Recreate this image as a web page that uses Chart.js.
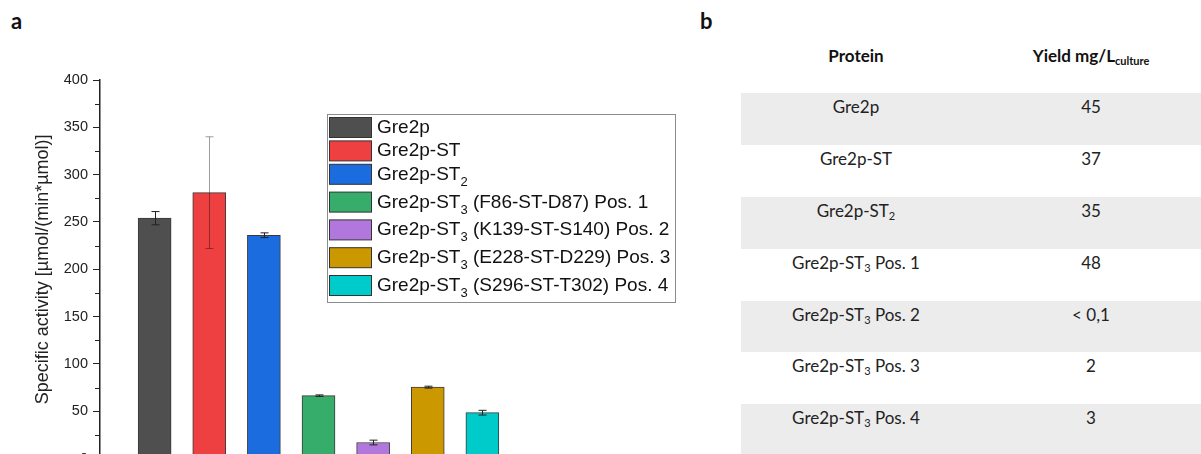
<!DOCTYPE html>
<html>
<head>
<meta charset="utf-8">
<script src="https://cdn.jsdelivr.net/npm/chart.js@4.4.1/dist/chart.umd.min.js"></script>
<style>
    html, body { margin: 0; padding: 0; width: 1201px; height: 454px; overflow: hidden; background: #fff; }
    #activityChart { position: absolute; left: 0; top: 0; }
    .panel-label { position: absolute; font-family: Lato, 'Open Sans', sans-serif; font-weight: bold; font-size: 22px; line-height: 26px; color: #111; }
    .yield-head, .yield-row { position: absolute; left: 741px; width: 470px; display: flex; font-family: Lato, 'Open Sans', sans-serif; font-size: 17px; line-height: 20px; color: #222; }
    .yield-head { top: 46px; font-weight: bold; color: #111; }
    .yield-row { height: 51.8px; box-sizing: border-box; padding-top: 4px; }
    .yield-row.shade { background: #ececec; }
    .col1 { width: 230px; text-align: center; }
    .col2 { width: 240px; text-align: center; }
    sub { font-size: 11px; vertical-align: -3px; line-height: 0; }
</style>
</head>
<body>
<div class="panel-label" style="left:11px; top:8px;">a</div>
<div class="panel-label" style="left:700px; top:8px;">b</div>
<canvas id="activityChart" width="700" height="500"></canvas>
<div id="yieldTable"></div>

<script>
// bar chart data (panel a)
const categories = [
    'Gre2p',
    'Gre2p-ST',
    'Gre2p-ST_2',
    'Gre2p-ST_3 (F86-ST-D87) Pos. 1',
    'Gre2p-ST_3 (K139-ST-S140) Pos. 2',
    'Gre2p-ST_3 (E228-ST-D229) Pos. 3',
    'Gre2p-ST_3 (S296-ST-T302) Pos. 4',
];
const activity = [254, 281, 236, 66.5, 17, 75.5, 48.5];
const activityErr = [7, 59, 2.5, 0.8, 2.5, 1, 2.5];
const barColors = ['#4f4f4f', '#ef4041', '#1b6cdf', '#37ad6b', '#b277dd', '#cb9800', '#00cbcb'];
const yTicks = [0, 50, 100, 150, 200, 250, 300, 350, 400];

// table data (panel b)
const tableProteins = ['Gre2p', 'Gre2p-ST', 'Gre2p-ST_2', 'Gre2p-ST_3 Pos. 1', 'Gre2p-ST_3 Pos. 2', 'Gre2p-ST_3 Pos. 3', 'Gre2p-ST_3 Pos. 4'];
const tableYields = ['45', '37', '35', '48', '< 0,1', '2', '3'];

const subHtml = (s) => s.replace(/_(\w+)/g, '<sub>$1</sub>');

// build table
const tbl = document.getElementById('yieldTable');
let html = '<div class="yield-head"><div class="col1">Protein</div><div class="col2">Yield mg/L<sub>culture</sub></div></div>';
tableProteins.forEach((p, i) => {
    const top = 93.3 + i * 51.8;
    html += `<div class="yield-row${i % 2 === 0 ? ' shade' : ''}" style="top:${top}px"><div class="col1">${subHtml(p)}</div><div class="col2">${tableYields[i]}</div></div>`;
});
tbl.innerHTML = html;

// text with _n subscripts on canvas
function drawSubText(ctx, text, x, y, size) {
    const parts = text.split(/_(\d+)/);
    ctx.textAlign = 'left';
    ctx.textBaseline = 'alphabetic';
    parts.forEach((part, k) => {
        if (k % 2 === 1) {
            ctx.font = `${Math.round(size * 0.66)}px "Liberation Sans", Arial, sans-serif`;
            ctx.fillText(part, x, y + 6);
        } else {
            ctx.font = `${size}px "Liberation Sans", Arial, sans-serif`;
            ctx.fillText(part, x, y);
        }
        x += ctx.measureText(part).width;
    });
}

// error bars
const errorBarsPlugin = {
    id: 'errorBars',
    afterDatasetsDraw(chart) {
        const { ctx } = chart;
        const yScale = chart.scales.y;
        const meta = chart.getDatasetMeta(0);
        ctx.save();
        ctx.lineWidth = 1;
        meta.data.forEach((bar, i) => {
            const hi = yScale.getPixelForValue(activity[i] + activityErr[i]);
            const lo = yScale.getPixelForValue(activity[i] - activityErr[i]);
            const x = Math.round(bar.x) + 0.5;
            ctx.strokeStyle = i === 1 ? 'rgba(0,0,0,0.38)' : '#222';
            ctx.beginPath();
            ctx.moveTo(x, hi);
            ctx.lineTo(x, lo);
            ctx.moveTo(x - 4, hi);
            ctx.lineTo(x + 4, hi);
            ctx.moveTo(x - 4, lo);
            ctx.lineTo(x + 4, lo);
            ctx.stroke();
        });
        ctx.restore();
    },
};

// minor ticks on the y axis
const minorTicksPlugin = {
    id: 'minorTicks',
    afterDraw(chart) {
        const { ctx, chartArea } = chart;
        const yScale = chart.scales.y;
        ctx.save();
        ctx.strokeStyle = '#222';
        ctx.lineWidth = 1;
        for (let i = 0; i < yTicks.length - 1; i++) {
            const v = (yTicks[i] + yTicks[i + 1]) / 2;
            const y = Math.round(yScale.getPixelForValue(v)) + 0.5;
            ctx.beginPath();
            ctx.moveTo(chartArea.left - 5, y);
            ctx.lineTo(chartArea.left, y);
            ctx.stroke();
        }
        ctx.restore();
    },
};

// boxed legend with subscripts
const boxLegendPlugin = {
    id: 'boxLegend',
    afterDraw(chart) {
        const { ctx } = chart;
        const colors = chart.data.datasets[0].backgroundColor;
        ctx.save();
        ctx.strokeStyle = '#8c8c8c';
        ctx.lineWidth = 1;
        ctx.strokeRect(327.5, 114.5, 348, 188);
        let y = 117;
        categories.forEach((name, i) => {
            ctx.fillStyle = colors[i];
            ctx.fillRect(329.5, y + 0.5, 42, 20);
            ctx.strokeStyle = '#333';
            ctx.strokeRect(329.5, y + 0.5, 42, 20);
            ctx.fillStyle = '#111';
            drawSubText(ctx, name, 377, y + 16, 19);
            y += name.includes('_') ? 27.8 : 23.4;
        });
        ctx.restore();
    },
};

new Chart(document.getElementById('activityChart'), {
    type: 'bar',
    data: {
        datasets: [{
            data: activity.map((v, i) => ({ x: i + 1, y: v })),
            backgroundColor: barColors,
            borderColor: '#3a3a3a',
            borderWidth: 1,
            barThickness: 33,
        }],
    },
    options: {
        responsive: false,
        animation: false,
        devicePixelRatio: 1,
        layout: { padding: { top: 80, bottom: 41.4, left: 0, right: 163 } },
        plugins: {
            legend: { display: false },
            tooltip: { enabled: false },
        },
        scales: {
            x: {
                type: 'linear',
                min: 0,
                max: 8,
                offset: false,
                display: false,
            },
            y: {
                min: 0,
                max: 400,
                afterFit(scale) { scale.width = 100; },
                afterBuildTicks(scale) { scale.ticks = yTicks.map((v) => ({ value: v })); },
                border: { display: true, color: '#222', width: 1.5 },
                grid: { drawOnChartArea: false, drawTicks: true, tickLength: 7, color: '#222', tickWidth: 1 },
                ticks: {
                    padding: 5,
                    color: '#222',
                    font: { family: '"Liberation Sans", Arial, sans-serif', size: 14.5 },
                },
                title: {
                    display: true,
                    text: 'Specific activity [µmol/(min*µmol)]',
                    color: '#222',
                    padding: { top: 32, bottom: 0 },
                    font: { family: '"Liberation Sans", Arial, sans-serif', size: 18 },
                },
            },
        },
    },
    plugins: [errorBarsPlugin, minorTicksPlugin, boxLegendPlugin],
});
</script>
</body>
</html>
